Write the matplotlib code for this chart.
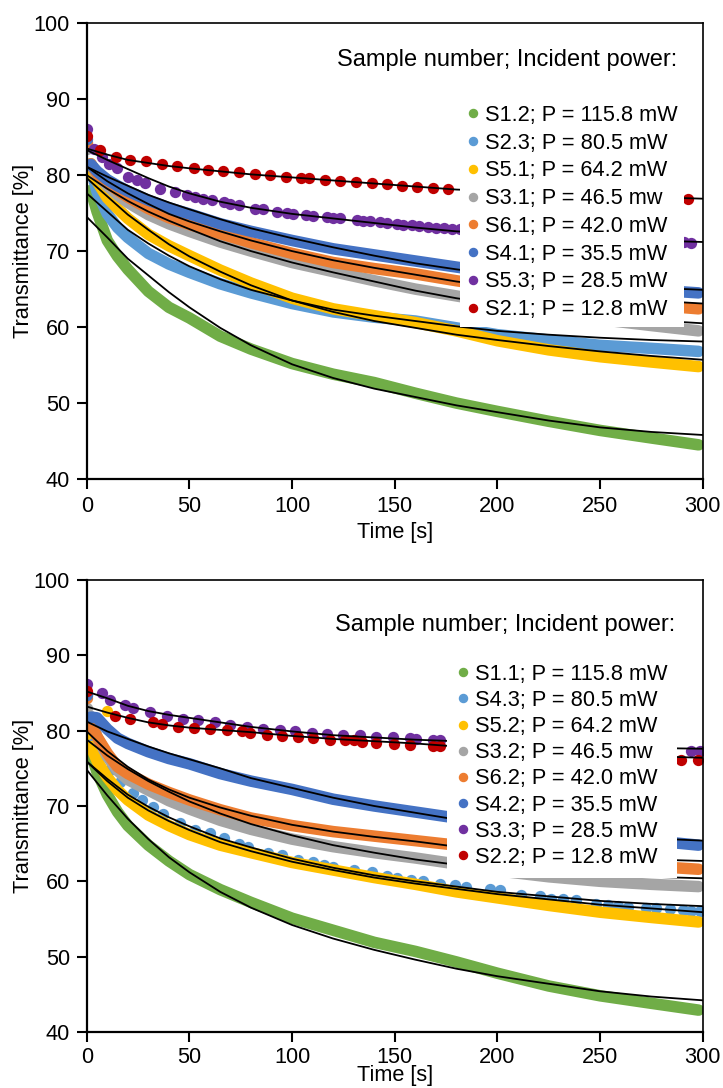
import matplotlib
matplotlib.use('Agg')
import matplotlib.pyplot as plt
from matplotlib.lines import Line2D

plt.rcParams['font.family'] = ['Liberation Sans', 'DejaVu Sans']

GREEN, LBLUE, YELLOW, GRAY = '#70AD47', '#5B9BD5', '#FFC000', '#A5A5A5'
ORANGE, DBLUE, PURPLE, RED = '#ED7D31', '#4472C4', '#7030A0', '#C00000'
colors = [GREEN, LBLUE, YELLOW, GRAY, ORANGE, DBLUE, PURPLE, RED]

# ---------------- data ----------------
t_band = [2, 5, 10, 15, 20, 30, 40, 50, 65, 80, 100, 120, 140, 160, 180, 200, 225, 250, 275, 298]
t_fit = [0, 10, 20, 30, 40, 50, 65, 80, 100, 120, 140, 160, 180, 200, 225, 250, 275, 300]

# top panel
top_labels = ['S1.2; P = 115.8 mW', 'S2.3; P = 80.5 mW', 'S5.1; P = 64.2 mW', 'S3.1; P = 46.5 mw',
              'S6.1; P = 42.0 mW', 'S4.1; P = 35.5 mW', 'S5.3; P = 28.5 mW', 'S2.1; P = 12.8 mW']
top_start = [80.5, 84.4, 81.5, 83.5, 84.2, 84.8]  # t = 0 for green..dark blue
top_green = [78.0, 75.2, 71.4, 69.3, 67.6, 64.7, 62.6, 61.2, 58.8, 57.1, 55.2, 53.8, 52.7, 51.3, 50.0, 48.9, 47.6, 46.4, 45.4, 44.5]
top_lblue = [81.0, 77.8, 74.9, 73.1, 71.8, 69.7, 68.3, 67.2, 65.7, 64.5, 63.1, 62.0, 61.3, 60.8, 59.9, 59.0, 58.3, 57.6, 57.2, 56.8]
top_yellow = [80.5, 79.2, 77.0, 75.6, 74.3, 72.2, 70.7, 69.4, 67.5, 65.8, 63.8, 62.4, 61.5, 60.6, 59.5, 58.2, 57.0, 56.1, 55.4, 54.8]
top_gray = [81.5, 80.0, 78.6, 77.4, 76.4, 74.8, 73.6, 72.6, 71.2, 70.0, 68.5, 67.3, 66.1, 65.0, 64.1, 63.2, 62.0, 61.0, 60.2, 59.5]
top_orange = [81.5, 80.2, 79.0, 78.0, 77.1, 75.6, 74.4, 73.5, 72.3, 71.1, 69.7, 68.5, 67.7, 67.0, 66.1, 65.3, 64.3, 63.5, 62.9, 62.4]
top_dblue = [81.4, 80.5, 79.4, 78.6, 77.9, 76.7, 75.7, 74.9, 73.6, 72.6, 71.4, 70.3, 69.5, 68.7, 67.9, 67.1, 66.2, 65.5, 64.9, 64.5]

top_purple_t = [0, 3.5, 7.3, 11, 14.6, 20.3, 24.4, 28.4, 35.7, 43, 48.7, 52.8, 56.8, 60.9, 66.6, 69.8,
                73.9, 82, 86, 92.5, 97.4, 100.6, 107, 110.4, 117, 120, 123.4, 131.5, 134.7, 138, 142.9,
                146, 151, 154.2, 158.3, 162, 166, 170, 174, 178, 181.7, 288, 291, 294.5]
top_purple_v = [86.1, 83.5, 82.4, 81.5, 80.9, 79.8, 79.3, 78.9, 78.2, 77.8, 77.4, 77.1, 76.9, 76.7, 76.4, 76.2,
                76.1, 75.6, 75.5, 75.2, 75.05, 74.95, 74.7, 74.65, 74.5, 74.4, 74.3, 74.1, 74.0, 73.9, 73.8,
                73.7, 73.6, 73.5, 73.4, 73.3, 73.2, 73.1, 73.0, 72.95, 72.9, 71.2, 71.15, 71.1]
top_red_t = [0, 6.5, 14, 21, 29, 36.5, 44, 52, 59, 66.5, 74, 82, 89, 97, 104.5, 108, 116, 123.5, 131,
             139, 146, 153.5, 161, 168.5, 176, 293]
top_red_v = [85.1, 83.3, 82.4, 82.0, 81.8, 81.4, 81.2, 81.0, 80.7, 80.6, 80.35, 80.1, 80.0, 79.8, 79.65,
             79.6, 79.4, 79.25, 79.1, 79.0, 78.8, 78.6, 78.45, 78.3, 78.2, 76.8]

fit_green_top = [74.5, 71.8, 69.0, 66.8, 64.6, 62.6, 59.9, 57.6, 55.1, 53.3, 51.9, 50.8, 49.7, 48.8, 47.7, 46.8, 46.2, 45.8]
fit_lblue_top = [77.6, 75.2, 72.8, 71.0, 69.4, 68.0, 66.3, 64.9, 63.5, 62.3, 61.5, 60.8, 60.1, 59.5, 59.0, 58.6, 58.3, 58.1]
fit_yellow_top = [79.6, 77.2, 74.8, 72.8, 70.9, 69.3, 67.3, 65.5, 63.5, 62.0, 60.8, 59.9, 59.0, 58.3, 57.5, 56.8, 56.2, 55.7]
fit_gray_top = [80.0, 78.2, 76.6, 75.2, 74.0, 72.9, 71.3, 70.0, 68.5, 67.2, 66.0, 64.8, 63.8, 63.0, 62.1, 61.4, 60.9, 60.5]
fit_orange_top = [81.1, 79.2, 77.6, 76.2, 74.9, 73.9, 72.6, 71.4, 70.0, 68.8, 67.8, 66.9, 66.0, 65.3, 64.6, 64.0, 63.5, 63.1]
fit_dblue_top = [81.1, 79.8, 78.6, 77.4, 76.4, 75.5, 74.2, 73.0, 71.7, 70.5, 69.4, 68.4, 67.6, 66.9, 66.2, 65.6, 65.2, 64.9]
fit_purple_top = [83.3, 82.0, 80.8, 79.6, 78.5, 77.6, 76.5, 75.7, 74.9, 74.3, 73.7, 73.1, 72.6, 72.3, 71.9, 71.6, 71.4, 71.2]
fit_red_top = [83.5, 82.7, 82.0, 81.6, 81.2, 80.9, 80.5, 80.1, 79.7, 79.3, 78.9, 78.5, 78.1, 77.9, 77.6, 77.3, 77.1, 76.9]

# bottom panel
bot_labels = ['S1.1; P = 115.8 mW', 'S4.3; P = 80.5 mW', 'S5.2; P = 64.2 mW', 'S3.2; P = 46.5 mw',
              'S6.2; P = 42.0 mW', 'S4.2; P = 35.5 mW', 'S3.3; P = 28.5 mW', 'S2.2; P = 12.8 mW']
bot_start = [80.0, 79.5, 83.0, 84.3, 84.8]  # t = 0 for green, yellow, gray, orange, dark blue
bot_green = [77.0, 74.5, 71.5, 69.2, 67.4, 64.8, 62.7, 60.9, 58.9, 57.2, 55.1, 53.5, 51.9, 50.7, 49.3, 47.8, 46.1, 44.8, 43.8, 42.9]
bot_yellow = [77.9, 76.0, 73.8, 72.1, 70.8, 68.8, 67.4, 66.2, 64.8, 63.8, 62.5, 61.5, 60.5, 59.6, 58.6, 57.8, 56.8, 55.9, 55.2, 54.6]
bot_gray = [81.9, 79.2, 76.6, 74.7, 73.5, 72.1, 70.7, 69.6, 68.1, 66.9, 65.6, 64.6, 63.8, 63.1, 62.3, 61.4, 60.6, 60.0, 59.6, 59.3]
bot_orange = [80.8, 79.2, 77.0, 75.2, 74.3, 72.9, 71.8, 70.8, 69.5, 68.4, 67.4, 66.6, 66.0, 65.4, 64.8, 64.0, 63.2, 62.6, 62.0, 61.6]
bot_dblue = [81.8, 81.7, 80.2, 79.0, 78.3, 77.2, 76.3, 75.6, 74.3, 73.3, 72.2, 70.9, 70.0, 69.2, 68.4, 67.6, 66.8, 66.0, 65.4, 64.8]
bot_yellow_extra_t = [9.9]
bot_yellow_extra_v = [82.6]

bot_lblue_t = [0, 3, 7, 11.4, 16.2, 22.7, 27, 32.5, 37.3, 45.5, 52.8, 60, 66.6, 73.9, 78.7, 88.5, 95, 103,
               110.4, 115.3, 120, 130, 139, 146, 151, 158, 163.8, 172, 179.2, 184.9, 196.3, 201.1, 211.7,
               220.6, 226.3, 232, 238.5, 248.2, 253.9, 258.8, 263.6, 272.6, 277.4, 284, 290.4, 294.5, 298.5]
bot_lblue_v = [84.7, 79.0, 76.8, 74.8, 73.2, 71.7, 70.8, 69.9, 69.0, 67.7, 66.8, 66.4, 65.7, 65.0, 64.6, 63.8,
               63.5, 62.8, 62.6, 62.2, 61.9, 61.5, 61.2, 60.7, 60.4, 60.2, 60.0, 59.7, 59.5, 59.3, 59.0,
               58.9, 58.2, 58.0, 57.7, 57.6, 57.5, 57.0, 56.9, 56.7, 56.6, 56.5, 56.4, 56.3, 56.2, 56.1, 56.0]
bot_purple_t = [0, 7.3, 11.4, 18.7, 22.7, 30.8, 39, 47, 54.4, 62.5, 69.8, 78, 86, 94, 101.5, 109.6, 117,
                125, 133, 141, 149, 157.3, 160.5, 168.7, 172, 294.5, 298.6]
bot_purple_v = [86.2, 84.95, 84.1, 83.4, 83.0, 82.5, 82.0, 81.6, 81.4, 81.1, 80.8, 80.5, 80.2, 80.1, 80.0,
                79.7, 79.6, 79.4, 79.4, 79.2, 79.1, 79.0, 78.95, 78.8, 78.8, 77.35, 77.35]
bot_red_t = [0, 13.8, 21.1, 32.5, 36.5, 44.6, 52, 60, 68.2, 75.5, 79.5, 87.7, 95, 103, 110.4, 118.5, 126,
             130, 134, 141, 149.4, 157.5, 168.7, 172, 289.6, 297.7]
bot_red_v = [85.2, 81.9, 81.5, 81.1, 80.9, 80.5, 80.4, 80.2, 80.1, 79.9, 79.7, 79.4, 79.3, 79.1, 79.0, 78.8,
             78.7, 78.7, 78.5, 78.3, 78.2, 78.1, 77.9, 77.95, 76.1, 76.1]

fit_green_bot = [74.8, 71.4, 68.3, 65.6, 63.2, 61.2, 58.6, 56.5, 54.2, 52.4, 50.9, 49.6, 48.4, 47.4, 46.4, 45.4, 44.7, 44.2]
fit_lblue_bot = [75.9, 73.6, 71.5, 69.9, 68.5, 67.3, 65.7, 64.5, 63.0, 61.8, 60.8, 60.0, 59.3, 58.6, 58.0, 57.4, 57.0, 56.7]
fit_yellow_bot = [75.9, 73.3, 71.1, 69.4, 68.0, 66.8, 65.2, 64.0, 62.6, 61.5, 60.5, 59.7, 59.0, 58.3, 57.6, 56.9, 56.4, 55.9]
fit_gray_bot = [78.8, 76.7, 74.9, 73.3, 71.9, 70.6, 69.0, 67.6, 66.1, 64.8, 63.8, 62.9, 62.2, 61.6, 61.1, 60.8, 60.6, 60.4]
fit_orange_bot = [79.9, 77.3, 75.2, 73.5, 72.2, 71.1, 69.8, 68.7, 67.5, 66.6, 65.9, 65.3, 64.6, 64.1, 63.6, 63.2, 62.9, 62.7]
fit_dblue_bot = [81.2, 79.9, 78.9, 77.9, 77.0, 76.2, 75.0, 73.7, 72.4, 71.1, 70.0, 69.1, 68.2, 67.5, 66.7, 66.1, 65.7, 65.4]
fit_purple_bot = [85.2, 84.3, 83.3, 82.6, 82.1, 81.7, 81.1, 80.5, 79.9, 79.4, 79.1, 78.8, 78.6, 78.4, 78.1, 77.9, 77.7, 77.6]
fit_red_bot = [83.2, 82.4, 81.7, 81.1, 80.7, 80.4, 80.1, 79.8, 79.3, 78.9, 78.6, 78.3, 77.9, 77.6, 77.2, 76.9, 76.6, 76.4]

FS = 15.7
DOT = 66      # scatter marker area
BAND = 8.3    # width of the dense data bands


def band(ax, color, v0, vals):
    ax.plot(t_band, vals, color=color, lw=BAND, solid_capstyle='round',
            solid_joinstyle='round', zorder=2)
    ax.scatter([0], [v0], s=DOT, color=color, lw=0, zorder=2)


def dots(ax, color, ts, vs):
    ax.scatter(ts, vs, s=DOT, color=color, lw=0, zorder=2)


def style(ax, fits, labels, leg_anchor, title_xy, spacing, pad, xpad, tpad):
    for fit in fits:
        ax.plot(t_fit, fit, color='black', lw=1.3, zorder=3)
    ax.set_xlim(0, 300)
    ax.set_ylim(40, 100)
    ax.set_xticks(range(0, 301, 50))
    ax.set_yticks(range(40, 101, 10))
    ax.tick_params(labelsize=FS, length=7, width=1.5, direction='out', pad=5)
    ax.tick_params(axis='x', pad=tpad)
    for s in ['left', 'bottom']:
        ax.spines[s].set_linewidth(1.6)
    for s in ['top', 'right']:
        ax.spines[s].set_linewidth(1.2)
    ax.set_xlabel('Time [s]', fontsize=FS, labelpad=xpad)
    ax.set_ylabel('Transmittance [%]', fontsize=FS, labelpad=0)
    ax.text(title_xy[0], title_xy[1], 'Sample number; Incident power:', transform=ax.transAxes,
            ha='right', va='center', fontsize=17)
    handles = [Line2D([], [], ls='', marker='o', markersize=5.8, color=c) for c in colors]
    leg = ax.legend(handles, labels, loc='upper left', bbox_to_anchor=leg_anchor, fontsize=FS,
                    frameon=True, fancybox=False, framealpha=1, edgecolor='none', facecolor='white',
                    handlelength=0.6, handletextpad=0.25, labelspacing=spacing, borderpad=pad,
                    borderaxespad=0)
    leg.set_zorder(5)


fig = plt.figure(figsize=(7.23, 10.88), dpi=100)
ax1 = fig.add_axes([0.120, 0.5597, 0.852, 0.419])
ax2 = fig.add_axes([0.120, 0.0515, 0.852, 0.4154])

# top panel
for c, v0, vals in zip(colors[:6], top_start,
                       [top_green, top_lblue, top_yellow, top_gray, top_orange, top_dblue]):
    band(ax1, c, v0, vals)
dots(ax1, PURPLE, top_purple_t, top_purple_v)
dots(ax1, RED, top_red_t, top_red_v)
style(ax1, [fit_green_top, fit_lblue_top, fit_yellow_top, fit_gray_top,
            fit_orange_top, fit_dblue_top, fit_purple_top, fit_red_top],
      top_labels, (0.6055, 0.835), (0.958, 0.919), 0.31, 0.3, 4, 5)

# bottom panel
band(ax2, GREEN, bot_start[0], bot_green)
dots(ax2, LBLUE, bot_lblue_t, bot_lblue_v)
band(ax2, YELLOW, bot_start[1], bot_yellow)
dots(ax2, YELLOW, bot_yellow_extra_t, bot_yellow_extra_v)
band(ax2, GRAY, bot_start[2], bot_gray)
band(ax2, ORANGE, bot_start[3], bot_orange)
band(ax2, DBLUE, bot_start[4], bot_dblue)
dots(ax2, PURPLE, bot_purple_t, bot_purple_v)
dots(ax2, RED, bot_red_t, bot_red_v)
style(ax2, [fit_green_bot, fit_lblue_bot, fit_yellow_bot, fit_gray_bot,
            fit_orange_bot, fit_dblue_bot, fit_purple_bot, fit_red_bot],
      bot_labels, (0.584, 0.836), (0.955, 0.900), 0.235, 0.45, -1.5, 3.5)

fig.savefig('out.png', dpi=100)
